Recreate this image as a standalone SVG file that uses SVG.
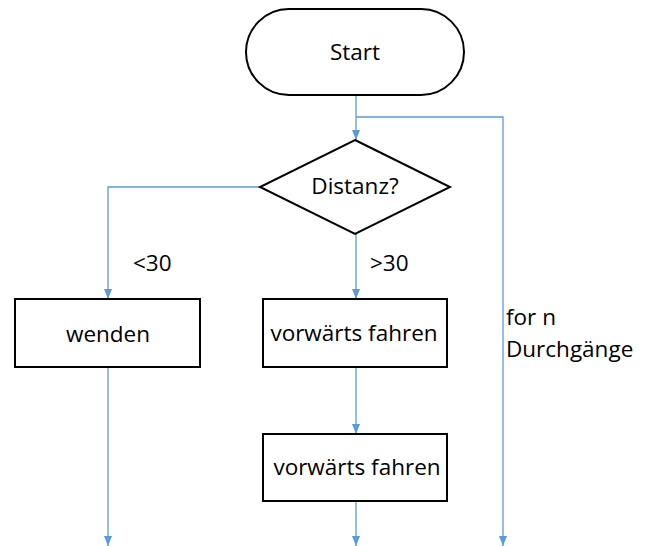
<svg xmlns="http://www.w3.org/2000/svg" width="659" height="546" viewBox="0 0 659 546">
<style>
.n{fill:#fff;stroke:#000;stroke-width:2}
.t{font-family:"Open Sans","Noto Sans",sans-serif;font-size:22.5px;fill:#000}
.c{fill:none;stroke:#5B9BD5;stroke-width:1.3}
</style>
<defs>
<marker id="a" markerWidth="10" markerHeight="8" refX="10" refY="4" orient="auto" markerUnits="userSpaceOnUse"><path d="M0,0 L10,4 L0,8 z" fill="#5B9BD5"/></marker>
</defs>
<g id="connectors">
<path class="c" d="M356,95 V140" marker-end="url(#a)"/>
<path class="c" d="M356,117 H503 V546" marker-end="url(#a)"/>
<path class="c" d="M260,187 H108 V299" marker-end="url(#a)"/>
<path class="c" d="M356,234 V299" marker-end="url(#a)"/>
<path class="c" d="M356,367 V434" marker-end="url(#a)"/>
<path class="c" d="M108,367 V546" marker-end="url(#a)"/>
<path class="c" d="M356,501 V546" marker-end="url(#a)"/>
<text class="t" x="133" y="271">&lt;30</text>
<text class="t" x="370" y="271">&gt;30</text>
<text class="t" x="506" y="325">for n</text>
<text class="t" x="506" y="357">Durchgänge</text>
</g>
<g id="start"><rect class="n" x="246" y="9" width="218" height="86" rx="43"/><text class="t" x="355" y="60" text-anchor="middle">Start</text></g>
<g id="distanz"><path class="n" d="M355,140 L450,187 L355,234 L260,187 z"/><text class="t" x="355" y="194" text-anchor="middle">Distanz?</text></g>
<g id="wenden"><rect class="n" x="15" y="299" width="185" height="68"/><text class="t" x="108" y="342" text-anchor="middle">wenden</text></g>
<g id="vorwaerts1"><rect class="n" x="263" y="299" width="184" height="68"/><text class="t" x="354" y="341" text-anchor="middle">vorwärts fahren</text></g>
<g id="vorwaerts2"><rect class="n" x="263" y="434" width="184" height="67"/><text class="t" x="357" y="475" text-anchor="middle">vorwärts fahren</text></g>
</svg>
